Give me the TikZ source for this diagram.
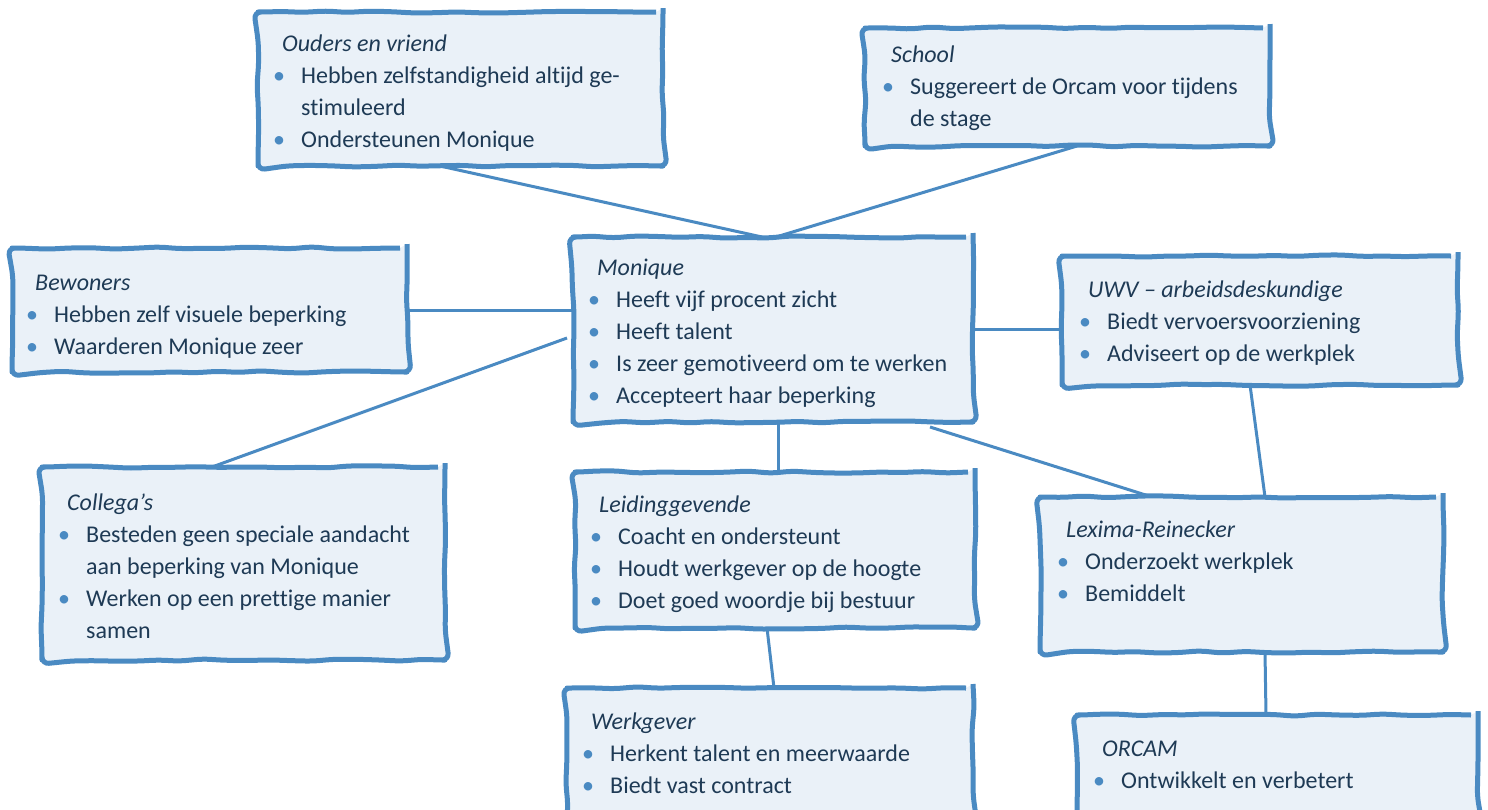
\documentclass[tikz,border=0pt]{standalone}
\usepackage{fontspec}
\setmainfont[Ligatures=NoCommon]{Carlito}
\usetikzlibrary{calc,backgrounds,decorations.pathmorphing}
\definecolor{acc}{HTML}{4A8AC2}
\definecolor{cardfill}{HTML}{EAF1F8}
\definecolor{ink}{HTML}{1E3A55}
\newcommand\ttl[1]{\rule{0pt}{24pt}\hspace*{24pt}\textit{#1}}
\newcommand\itm[1]{\makebox[43pt][l]{\hspace*{15pt}\textcolor{acc}{\textbullet}}#1}
\newcommand\cnt[1]{\hspace*{43pt}#1}
\tikzset{
  card/.style={draw=acc, fill=cardfill, line width=5pt, line join=round,
    decorate, decoration={random steps, segment length=22pt, amplitude=1.2pt},
    rounded corners=7pt, minimum width=#1, inner sep=0pt, outer sep=0pt},
  txt/.style={anchor=north west, yshift=24pt, align=left, inner sep=0pt, text=ink,
    font=\fontsize{24}{32}\selectfont},
  link/.style={draw=acc, line width=3pt}
}
\pgfmathsetseed{11}
\begin{document}
\begin{tikzpicture}[x=1pt,y=-1pt]
\useasboundingbox (0,0) rectangle (1488,809);
% boxes
\node[card=405pt, minimum height=154pt] (ouders) at (460.5,89) {};
\node[card=405pt, minimum height=118pt] (school) at (1067.5,87) {};
\node[card=395pt, minimum height=124pt] (bew) at (209.5,310) {};
\node[card=400pt, minimum height=185pt] (mon) at (773,329.5) {};
\node[card=396pt, minimum height=129pt] (uwv) at (1260,320.5) {};
\node[card=403pt, minimum height=193pt] (col) at (243.5,563.5) {};
\node[card=400pt, minimum height=156pt] (lei) at (775,550) {};
\node[card=403pt, minimum height=155pt] (lex) at (1241.5,574.5) {};
\node[card=406pt, minimum height=136pt] (werk) at (770,756) {};
\node[card=401pt, minimum height=109pt] (orc) at (1277.5,769.5) {};
% texts
\node[txt] (ouders-t) at (258,51) {\ttl{Ouders en vriend}\\\itm{Hebben zelfstandigheid altijd ge-}\\\cnt{stimuleerd}\\\itm{Ondersteunen Monique}};
\node[txt] (school-t) at (867,62) {\ttl{School}\\\itm{Suggereert de Orcam voor tijdens}\\\cnt{de stage}};
\node[txt] (bew-t) at (11,290) {\ttl{Bewoners}\\\itm{Hebben zelf visuele beperking}\\\itm{Waarderen Monique zeer}};
\node[txt] (mon-t) at (573,275) {\ttl{Monique}\\\itm{Heeft vijf procent zicht}\\\itm{Heeft talent}\\\itm{Is zeer gemotiveerd om te werken}\\\itm{Accepteert haar beperking}};
\node[txt] (uwv-t) at (1064,297) {\ttl{UWV – arbeidsdeskundige}\\\itm{Biedt vervoersvoorziening}\\\itm{Adviseert op de werkplek}};
\node[txt] (col-t) at (43,510) {\ttl{Collega’s}\\\itm{Besteden geen speciale aandacht}\\\cnt{aan beperking van Monique}\\\itm{Werken op een prettige manier}\\\cnt{samen}};
\node[txt] (lei-t) at (575,512) {\ttl{Leidinggevende}\\\itm{Coacht en ondersteunt}\\\itm{Houdt werkgever op de hoogte}\\\itm{Doet goed woordje bij bestuur}};
\node[txt] (lex-t) at (1042,537) {\ttl{Lexima-Reinecker}\\\itm{Onderzoekt werkplek}\\\itm{Bemiddelt}};
\node[txt] (werk-t) at (567,729) {\ttl{Werkgever}\\\itm{Herkent talent en meerwaarde}\\\itm{Biedt vast contract}};
\node[txt] (orc-t) at (1078,756) {\ttl{ORCAM}\\\itm{Ontwikkelt en verbetert}};
% connectors
\begin{pgfonlayer}{background}
\draw[link] ($(ouders.south west)+(182,0)$) -- ($(mon.north west)+(189,0)$);
\draw[link] ($(school.south west)+(212,0)$) -- ($(mon.north west)+(203,0)$);
\draw[link] (bew.east) -- (bew.east -| mon.west);
\draw[link] ($(col.north west)+(170,0)$) -- ($(mon.south west)+(-6,-84)$);
\draw[link] (mon.east) -- (mon.east -| uwv.west);
\draw[link] ($(mon.south)+(5,0)$) -- ($(lei.north)+(3,0)$);
\draw[link] ($(mon.south east)+(-43,5)$) -- ($(lex.north west)+(112,0)$);
\draw[link] ($(uwv.south west)+(188,0)$) -- ($(lex.north west)+(225,0)$);
\draw[link] ($(lei.south west)+(192,0)$) -- ($(werk.north west)+(207,0)$);
\draw[link] ($(lex.south west)+(225,0)$) -- ($(orc.north west)+(189,0)$);
\end{pgfonlayer}
\end{tikzpicture}
\end{document}
